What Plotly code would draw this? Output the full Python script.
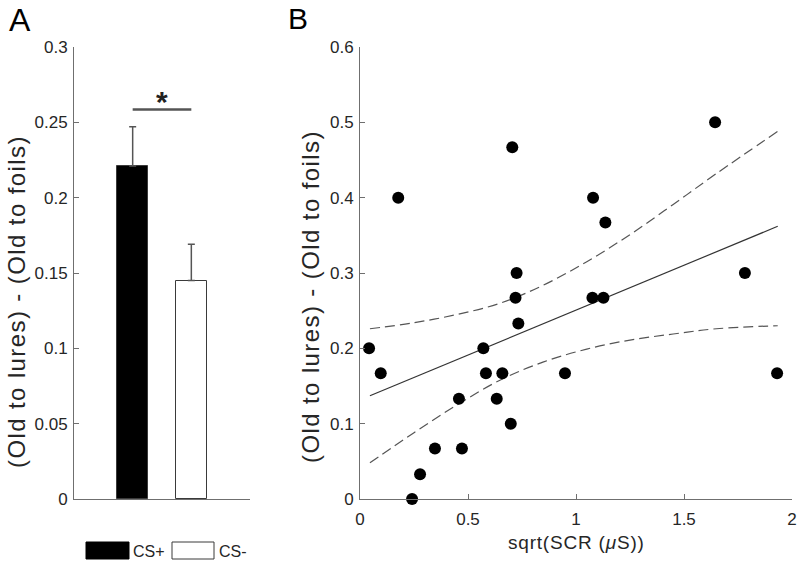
import plotly.graph_objects as go

# ---------------- data ----------------
conditions = ["CS+", "CS-"]
cond_means = [0.221, 0.145]
cond_sem = [0.026, 0.024]
sig_level = 0.2586

scr_sqrt = [0.042, 0.096, 0.177, 0.241, 0.278, 0.347, 0.458, 0.472, 0.571, 0.583,
            0.633, 0.659, 0.698, 0.705, 0.720, 0.725, 0.733, 0.949, 1.076, 1.079,
            1.127, 1.136, 1.644, 1.782, 1.931]
discrim = [0.200, 0.167, 0.400, 0.000, 0.033, 0.067, 0.133, 0.067, 0.200, 0.167,
           0.133, 0.167, 0.100, 0.467, 0.267, 0.300, 0.233, 0.167, 0.267, 0.400,
           0.267, 0.367, 0.500, 0.300, 0.167]

fit_x = [0.046, 1.934]
fit_y = [0.137, 0.362]

band_x = [0.046, 0.25, 0.45, 0.65, 0.85, 1.05, 1.25, 1.45, 1.65, 1.934]
band_upper = [0.226, 0.234, 0.245, 0.260, 0.284, 0.315, 0.351, 0.391, 0.432, 0.488]
band_lower = [0.048, 0.088, 0.125, 0.158, 0.182, 0.199, 0.211, 0.219, 0.226, 0.230]

a_ticks = [0, 0.05, 0.1, 0.15, 0.2, 0.25, 0.3]
a_ticktext = ["0", "0.05", "0.1", "0.15", "0.2", "0.25", "0.3"]
b_xticks = [0, 0.5, 1, 1.5, 2]
b_xticktext = ["0", "0.5", "1", "1.5", "2"]
b_yticks = [0, 0.1, 0.2, 0.3, 0.4, 0.5, 0.6]
b_yticktext = ["0", "0.1", "0.2", "0.3", "0.4", "0.5", "0.6"]

# ---------------- layout helpers ----------------
W, H = 800, 563
FONT = "Liberation Sans, Arial, sans-serif"
AX = "#6f6f6f"
TXT = "#262626"


def fx(p):
    return p / W


def fy(p):
    return 1 - p / H


fig = go.Figure()

# Panel A: bars
fig.add_trace(go.Bar(
    x=conditions, y=cond_means, width=0.52,
    marker=dict(color=["black", "white"], line=dict(color="#3a3a3a", width=1)),
    error_y=dict(type="data", symmetric=False, array=cond_sem, arrayminus=[0, 0],
                 color="#555555", thickness=1.5, width=3.5),
    xaxis="x", yaxis="y", showlegend=False, cliponaxis=False))

# significance line
fig.add_trace(go.Scatter(
    x=conditions, y=[sig_level, sig_level], mode="lines",
    line=dict(color="#555555", width=2.5), xaxis="x", yaxis="y",
    showlegend=False, hoverinfo="skip"))

# Panel B: confidence band, fit, points
fig.add_trace(go.Scatter(
    x=band_x, y=band_upper, mode="lines", line_shape="spline",
    line=dict(color="#555555", width=1.2, dash="10px,5px"),
    xaxis="x2", yaxis="y2", showlegend=False))
fig.add_trace(go.Scatter(
    x=band_x, y=band_lower, mode="lines", line_shape="spline",
    line=dict(color="#555555", width=1.2, dash="10px,5px"),
    xaxis="x2", yaxis="y2", showlegend=False))
fig.add_trace(go.Scatter(
    x=fit_x, y=fit_y, mode="lines",
    line=dict(color="#333333", width=1.2),
    xaxis="x2", yaxis="y2", showlegend=False))
fig.add_trace(go.Scatter(
    x=scr_sqrt, y=discrim, mode="markers",
    marker=dict(color="black", size=12, line=dict(width=0)),
    xaxis="x2", yaxis="y2", showlegend=False, cliponaxis=False))

ydom = [fy(499), fy(47)]
tickfont = dict(family=FONT, size=17, color=TXT)
common_axis = dict(showline=True, linecolor=AX, linewidth=1, showgrid=False,
                   zeroline=False, ticks="inside", tickcolor=AX, ticklen=5,
                   tickfont=tickfont, automargin=False)

fig.update_layout(
    width=W, height=H,
    margin=dict(l=0, r=0, t=0, b=0, pad=0, autoexpand=False),
    paper_bgcolor="white", plot_bgcolor="white",
    font=dict(family=FONT, color=TXT),
    bargap=0,
    xaxis=dict(domain=[fx(74), fx(250)], range=[-1, 2], type="category",
               showline=True, linecolor=AX, linewidth=1, showgrid=False,
               zeroline=False, ticks="", showticklabels=False, anchor="y",
               automargin=False),
    yaxis=dict(domain=ydom, range=[0, 0.3], tickvals=a_ticks, ticktext=a_ticktext,
               anchor="x", ticklabelstandoff=2, **common_axis),
    xaxis2=dict(domain=[fx(360), fx(792)], range=[0, 2], tickvals=b_xticks,
                ticktext=b_xticktext, anchor="y2", ticklabelstandoff=5, **common_axis),
    yaxis2=dict(domain=ydom, range=[0, 0.6], tickvals=b_yticks, ticktext=b_yticktext,
                anchor="x2", ticklabelstandoff=2, **common_axis),
)


def note(text, x, y, size, color=TXT, xanchor="center", yanchor="middle", **kw):
    d = dict(text=text, x=x, y=y, xref="paper", yref="paper", showarrow=False,
             xanchor=xanchor, yanchor=yanchor,
             font=dict(size=size, color=color, family=FONT))
    d.update(kw)
    return d


def spaced(text, px):
    return '<span style="letter-spacing:%spx">%s</span>' % (px, text)


ann = []
ann.append(note("A", fx(20), fy(20), 32, color="black"))
ann.append(note("B", fx(298), fy(19), 30, color="black"))
ann.append(dict(text="<b>*</b>", x=0.5, y=sig_level, xref="x", yref="y",
                xanchor="center", yanchor="bottom", showarrow=False, yshift=-11,
                font=dict(size=30, color="#222222", family=FONT)))
ytitle = "(Old to lures) - (Old to foils)"
ann.append(note(spaced(ytitle, 1.4), fx(16), fy(302), 24, textangle=-90))
ann.append(note(spaced(ytitle, 1.4), fx(310), fy(297), 24, textangle=-90))
ann.append(note(spaced("sqrt(SCR (<i>μ</i>S))", 0.8), fx(576), fy(542), 19))
ann.append(note("CS+", fx(131), fy(551), 16, xanchor="left"))
ann.append(note("CS-", fx(217), fy(551), 16, xanchor="left"))
fig.update_layout(annotations=ann)

fig.add_shape(type="rect", xref="paper", yref="paper",
              x0=fx(86), x1=fx(129), y0=fy(559), y1=fy(542),
              fillcolor="black", line=dict(color="black", width=1))
fig.add_shape(type="rect", xref="paper", yref="paper",
              x0=fx(172), x1=fx(214), y0=fy(559), y1=fy(542),
              fillcolor="white", line=dict(color="#3a3a3a", width=1))

fig.write_html("out.html",
               config={"displayModeBar": False},
               post_script="document.body.style.margin='0';"
                           "document.body.style.overflow='hidden';")
